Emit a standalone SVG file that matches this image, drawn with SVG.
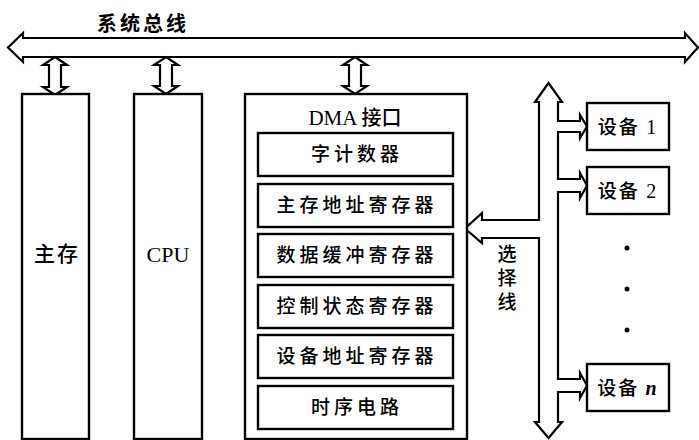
<svg xmlns="http://www.w3.org/2000/svg" width="699" height="440" viewBox="0 0 699 440">
<style>
.ln{fill:#fff;stroke:#000;stroke-width:2.2;stroke-linejoin:miter}
.bx{fill:#fff;stroke:#000;stroke-width:2.4}
.cj{font-family:"Noto Sans CJK SC","Liberation Serif",serif;font-size:19px;font-weight:500;fill:#000;text-anchor:middle;letter-spacing:4px}
.lt{font-family:"Liberation Serif","Noto Sans CJK SC",serif;font-size:21px;fill:#000;text-anchor:middle}
</style>
<rect width="699" height="440" fill="#fff"/>
<g id="connectors">
<polygon class="ln" points="8,47.5 23,33 23,38 685,38 685,33 698,47.5 685,62 685,57 23,57 23,62"/>
<polygon class="ln" points="55,57 67,65 61,65 61,87 67,87 55,95 43,87 49,87 49,65 43,65"/>
<polygon class="ln" points="166,57 178,65 172,65 172,86 178,86 166,94 154,86 160,86 160,65 154,65"/>
<polygon class="ln" points="355,57 367,65 361,65 361,86 367,86 355,94 343,86 349,86 349,65 343,65"/>
<polygon class="ln" points="548.5,83 562,102 558,102 558,121 580,121 580,115 587,126.5 580,138 580,132 558,132 558,179 580,179 580,173 587,185.5 580,198 580,192 558,192 558,379 580,379 580,373 587,385.5 580,398 580,392 558,392 558,422 562,422 548.5,438 535,422 539,422 539,238 482,238 482,243 465,228.5 482,213 482,220 539,220 539,102 535,102"/>
</g>
<text class="cj" x="143" y="31" style="font-size:20px;font-weight:bold;letter-spacing:3px">系统总线</text>
<g id="mainmem">
<rect class="bx" x="22" y="94" width="67" height="345"/>
<text class="cj" x="57" y="261" style="font-size:21px;letter-spacing:2px">主存</text>
</g>
<g id="cpu">
<rect class="bx" x="134" y="94" width="68" height="345"/>
<text class="lt" x="168" y="262" style="font-size:22px">CPU</text>
</g>
<g id="dma">
<rect class="bx" x="245" y="94" width="222" height="345"/>
<text x="355" y="125" style="font-family:'Liberation Serif','Noto Sans CJK SC',serif;font-size:21px;text-anchor:middle">DMA <tspan style="font-family:'Noto Sans CJK SC',serif;font-size:20px;font-weight:500">接口</tspan></text>
</g>
<g id="wordcount">
<rect class="bx" x="258" y="133" width="195" height="43"/>
<text class="cj" x="357" y="161">字计数器</text>
</g>
<g id="memaddr">
<rect class="bx" x="258" y="184" width="195" height="43"/>
<text class="cj" x="357" y="212">主存地址寄存器</text>
</g>
<g id="databuf">
<rect class="bx" x="258" y="234" width="195" height="43"/>
<text class="cj" x="357" y="262">数据缓冲寄存器</text>
</g>
<g id="ctrlstat">
<rect class="bx" x="258" y="285" width="195" height="43"/>
<text class="cj" x="357" y="313">控制状态寄存器</text>
</g>
<g id="devaddr">
<rect class="bx" x="258" y="335" width="195" height="43"/>
<text class="cj" x="357" y="363">设备地址寄存器</text>
</g>
<g id="timing">
<rect class="bx" x="258" y="386" width="195" height="43"/>
<text class="cj" x="357" y="414">时序电路</text>
</g>
<g id="selline">
<text x="507" y="244" style="font-family:'Noto Sans CJK SC',serif;font-size:19px;font-weight:500;writing-mode:vertical-rl;letter-spacing:5px">选择线</text>
</g>
<g id="dev1">
<rect class="bx" x="587" y="103" width="82" height="47"/>
<text class="cj" x="628" y="134" style="letter-spacing:2px">设备 <tspan style="font-family:'Liberation Serif',serif;font-size:20px">1</tspan></text>
</g>
<g id="dev2">
<rect class="bx" x="587" y="167" width="82" height="47"/>
<text class="cj" x="628" y="198" style="letter-spacing:2px">设备 <tspan style="font-family:'Liberation Serif',serif;font-size:20px">2</tspan></text>
</g>
<g id="dots">
<circle cx="627" cy="248" r="2.5"/>
<circle cx="627" cy="289" r="2.5"/>
<circle cx="627" cy="330" r="2.5"/>
</g>
<g id="devn">
<rect class="bx" x="587" y="364" width="82" height="47"/>
<text class="cj" x="628" y="395" style="letter-spacing:2px">设备 <tspan style="font-family:'Liberation Serif',serif;font-size:20px;font-style:italic;font-weight:bold">n</tspan></text>
</g>
</svg>
